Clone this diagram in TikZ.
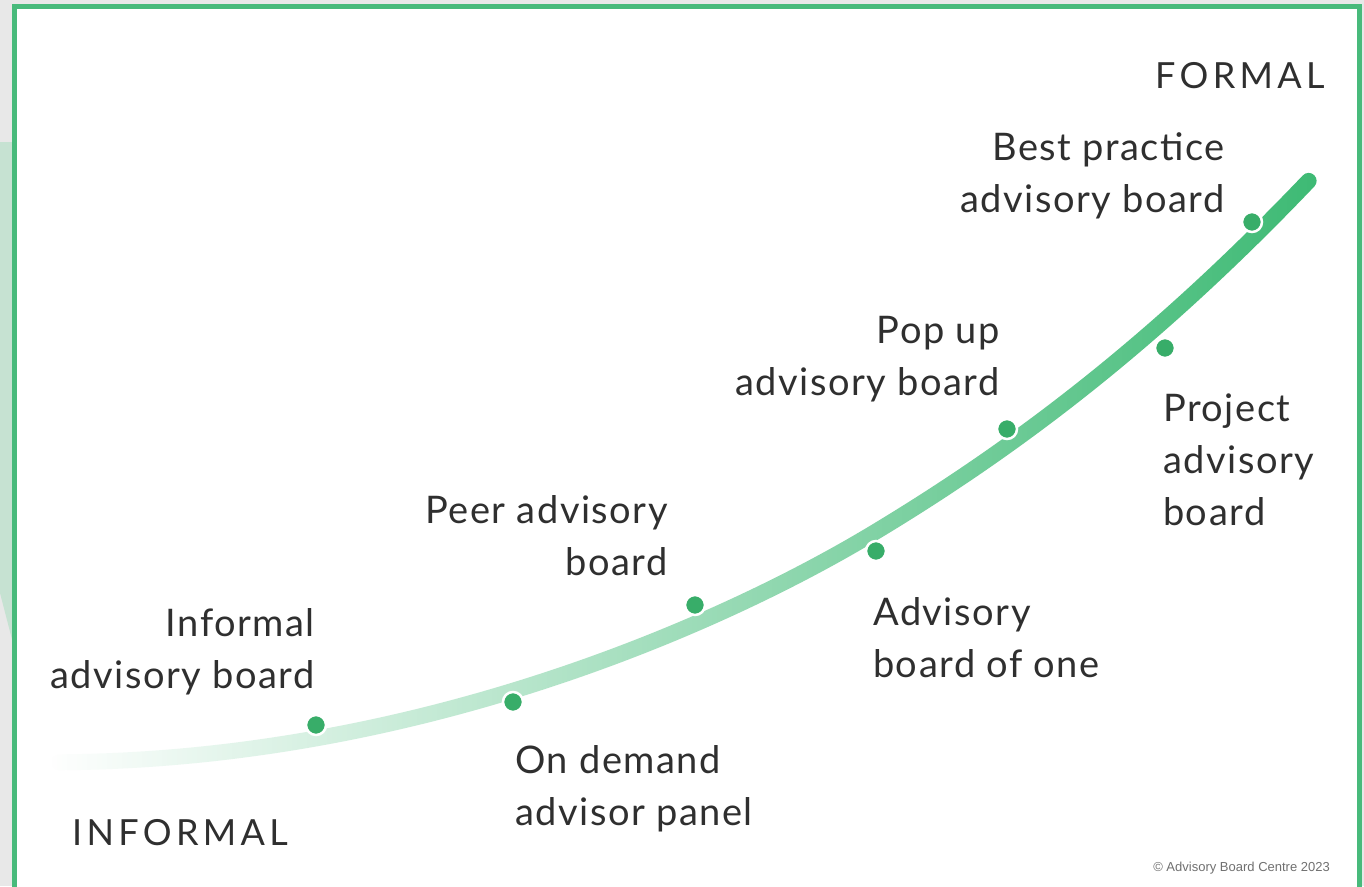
\documentclass[tikz,border=0pt]{standalone}
\usepackage{fontspec}
\setmainfont{Lato}[LetterSpace=4]
\newfontfamily\capsfont[LetterSpace=12]{Lato}
\newfontfamily\notefont{Liberation Sans}
\usetikzlibrary{fadings}
\definecolor{bggray}{HTML}{E8E8E8}
\definecolor{palegreen}{HTML}{C6E2D2}
\definecolor{framegreen}{HTML}{48BA7B}
\definecolor{curvegreen}{HTML}{3DBA74}
\definecolor{dotgreen}{HTML}{38AD69}
\definecolor{ink}{HTML}{2F2F2F}
\definecolor{notegray}{HTML}{707070}
\begin{document}
\begin{tikzpicture}[x=1pt,y=-1pt,
  lab/.style={font=\fontsize{38}{52}\selectfont, text=ink, inner sep=0pt},
  labr/.style={lab, align=right, anchor=base east},
  labl/.style={lab, align=left, anchor=base west},
  endlab/.style={font=\capsfont\fontsize{36}{40}\selectfont, text=ink, inner sep=0pt, anchor=base west},
  stagedot/.style={circle, fill=dotgreen, draw=white, line width=2.5pt, minimum size=20pt, inner sep=0pt},
  curvestyle/.style={curvegreen, line width=16pt, line cap=round, path fading=west},
]
\useasboundingbox (0,0) rectangle (1364,886);
\fill[bggray] (0,0) rectangle (1364,886);
\fill[palegreen] (0,142) -- (14,142) -- (14,647) -- (0,593) -- cycle;
\fill[white] (14,6) rectangle (1360,886);
\draw[framegreen, line width=5pt] (14.5,890) -- (14.5,6.5) -- (1359.5,6.5) -- (1359.5,890);

% curve from informal to formal (two smoothly joined segments)
\coordinate (cstart) at (60,762);
\coordinate (cmid) at (876,533);
\coordinate (cend) at (1313,180);
\coordinate (ka1) at (420,760);
\coordinate (ka2) at (726,623);
\coordinate (kb1) at (1026,443);
\coordinate (kb2) at (1163,337);
\draw[curvestyle] (cstart) .. controls (ka1) and (ka2) .. (cmid)
                           .. controls (kb1) and (kb2) .. (cend);

% stage dots
\node[stagedot] (d1) at (316,725) {};
\node[stagedot] (d2) at (513,702) {};
\node[stagedot] (d3) at (695,605) {};
\node[stagedot] (d4) at (876,551) {};
\node[stagedot] (d5) at (1007,429) {};
\node[stagedot] (d6) at (1165,348) {};
\node[stagedot] (d7) at (1252,222) {};

% labels (anchored at the baseline of their last line)
\node[labr] (informal) at (315,688) {Informal\\advisory board};
\node[labr] (peer) at (668,575) {Peer advisory\\board};
\node[labr] (popup) at (1000,395) {Pop up\\advisory board};
\node[labr] (best) at (1225,212) {Best practice\\advisory board};
\node[labl] (ondemand) at (515,825) {On demand\\advisor panel};
\node[labl] (one) at (873,677) {Advisory\\board of one};
\node[labl] (project) at (1163,525) {Project\\advisory\\board};

\node[endlab] (formalend) at (1155,88) {FORMAL};
\node[endlab] (informalend) at (72,845) {INFORMAL};

\node[font=\notefont\fontsize{13}{15}\selectfont, text=notegray, inner sep=0pt, anchor=base east] (copy) at (1330,871) {© Advisory Board Centre 2023};
\end{tikzpicture}
\end{document}
